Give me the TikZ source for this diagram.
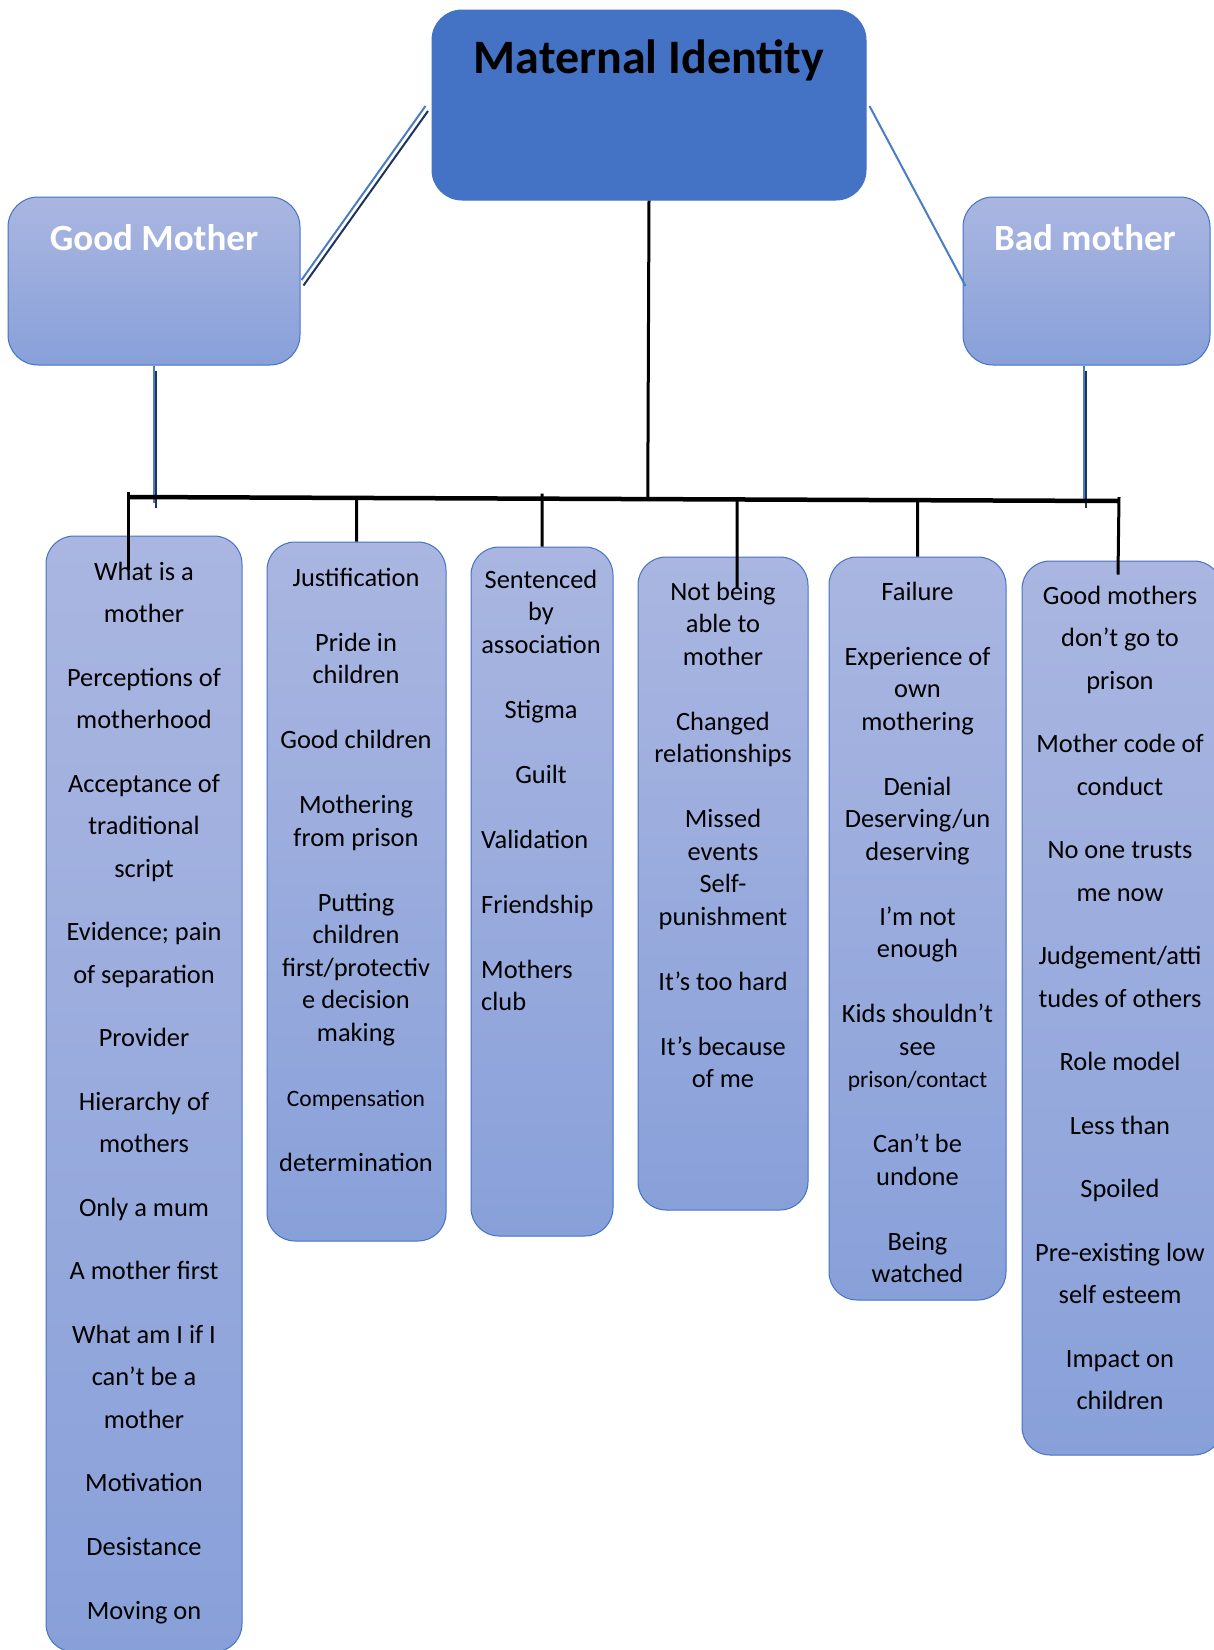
\documentclass[tikz,border=0pt]{standalone}
\usepackage{fontspec}
\setmainfont{Carlito}
\usetikzlibrary{calc}

\definecolor{mainblue}{RGB}{68,114,196}
\definecolor{lightline}{RGB}{74,126,196}
\definecolor{darkline}{RGB}{32,52,88}
\definecolor{boxtop}{RGB}{170,182,225}
\definecolor{boxbottom}{RGB}{136,160,217}

\newcommand{\firstline}{\rule{0pt}{20pt}}

\tikzset{
  mainbox/.style={draw=mainblue, fill=mainblue, rounded corners=30pt, line width=1pt, inner sep=0pt},
  headbox/.style={draw=mainblue, top color=boxtop, bottom color=boxbottom, rounded corners=30pt, line width=1pt, inner sep=0pt},
  colbox/.style={draw=mainblue, top color=boxtop, bottom color=boxbottom, rounded corners=28pt, line width=1pt, inner sep=0pt},
  headtext/.style={anchor=base, inner sep=0pt, text=white, font=\fontsize{37}{44}\selectfont\bfseries},
  itemtext/.style={anchor=north, inner sep=0pt, align=center, font=\fontsize{26.4}{32.5}\selectfont},
  wideitems/.style={itemtext, font=\fontsize{26.4}{42.4}\selectfont},
  bar/.style={line width=4.5pt},
  tick/.style={line width=3pt},
  blueline/.style={draw=lightline, line width=2pt},
  shadowline/.style={draw=darkline, line width=2pt},
}

\newcommand{\smalltxt}[1]{{\fontsize{23.5}{32.5}\selectfont #1}}

\begin{document}
\begin{tikzpicture}[x=1pt, y=-1pt]
    \useasboundingbox (0,0) rectangle (1214,1650);

    % Define the positions of the boxes
    \coordinate (mainPos) at (649,105);
    \coordinate (goodPos) at (154,281);
    \coordinate (badPos) at (1086.5,281);
    \coordinate (col1Pos) at (144,1094);
    \coordinate (col2Pos) at (356.5,891.5);
    \coordinate (col3Pos) at (542,891.5);
    \coordinate (col4Pos) at (723,883.5);
    \coordinate (col5Pos) at (917.5,928.5);
    \coordinate (col6Pos) at (1122,1008);

    % Draw the boxes
    \node[mainbox, minimum width=434pt, minimum height=190pt] (mi) at (mainPos) {};
    \node[headbox, minimum width=292pt, minimum height=168pt] (gm) at (goodPos) {};
    \node[headbox, minimum width=247pt, minimum height=168pt] (bm) at (badPos) {};
    \node[colbox, minimum width=196pt, minimum height=1116pt] (c1) at (col1Pos) {};
    \node[colbox, minimum width=179pt, minimum height=699pt] (c2) at (col2Pos) {};
    \node[colbox, minimum width=142pt, minimum height=689pt] (c3) at (col3Pos) {};
    \node[colbox, minimum width=170pt, minimum height=653pt] (c4) at (col4Pos) {};
    \node[colbox, minimum width=177pt, minimum height=743pt] (c5) at (col5Pos) {};
    \node[colbox, minimum width=200pt, minimum height=894pt] (c6) at (col6Pos) {};

    % Draw the labels
    \node[anchor=base, inner sep=0pt, font=\fontsize{48}{58}\selectfont\bfseries] (mitext) at (649,73) {Maternal Identity};
    \node[headtext] (gmtext) at (154,250) {Good Mother};
    \node[headtext] (bmtext) at (1085,250) {Bad mother};

    \node[wideitems] (c1text) at (144,560) {\firstline What is a\\mother\\[21.2pt]
        Perceptions of\\motherhood\\[21.2pt]
        Acceptance of\\traditional\\script\\[21.2pt]
        Evidence; pain\\of separation\\[21.2pt]
        Provider\\[21.2pt]
        Hierarchy of\\mothers\\[21.2pt]
        Only a mum\\[21.2pt]
        A mother first\\[21.2pt]
        What am I if I\\can’t be a\\mother\\[21.2pt]
        Motivation\\[21.2pt]
        Desistance\\[21.2pt]
        Moving on};
    \node[itemtext] (c2text) at (356,566) {\firstline Justification\\[32.5pt]
        Pride in\\children\\[32.5pt]
        Good children\\[32.5pt]
        Mothering\\from prison\\[32.5pt]
        Putting\\children\\first/protectiv\\e decision\\making\\[32.5pt]
        \smalltxt{Compensation}\\[32.5pt]
        determination};
    \node[itemtext] (c3text) at (541,568) {\firstline Sentenced\\by\\association\\[32.5pt]
        Stigma\\[32.5pt]
        Guilt};
    \node[itemtext, anchor=north west, align=left] (c3left) at (481,828) {\firstline Validation\\[32.5pt]
        Friendship\\[32.5pt]
        Mothers\\club};
    \node[itemtext] (c4text) at (723,580) {\firstline Not being\\able to\\mother\\[32.5pt]
        Changed\\relationships\\[32.5pt]
        Missed\\events\\Self-\\punishment\\[32.5pt]
        It’s too hard\\[32.5pt]
        It’s because\\of me};
    \node[itemtext] (c5text) at (917.5,580) {\firstline Failure\\[32.5pt]
        Experience of\\own\\mothering\\[32.5pt]
        Denial\\Deserving/un\\deserving\\[32.5pt]
        I’m not\\enough\\[32.5pt]
        Kids shouldn’t\\see\\\smalltxt{prison/contact}\\[32.5pt]
        Can’t be\\undone\\[32.5pt]
        Being\\watched};
    \node[wideitems] (c6text) at (1120,584) {\firstline Good mothers\\don’t go to\\prison\\[21.2pt]
        Mother code of\\conduct\\[21.2pt]
        No one trusts\\me now\\[21.2pt]
        Judgement/atti\\tudes of others\\[21.2pt]
        Role model\\[21.2pt]
        Less than\\[21.2pt]
        Spoiled\\[21.2pt]
        Pre-existing low\\self esteem\\[21.2pt]
        Impact on\\children};

    % Draw the lines
    \draw[blueline] ([xshift=-6pt,yshift=-1pt]mi.west) -- ([xshift=1pt,yshift=1pt]gm.east);
    \draw[shadowline] ([xshift=-3.5pt,yshift=-6pt]mi.west) -- ([xshift=3pt,yshift=-4.5pt]gm.east);
    \draw[blueline] ([xshift=3pt,yshift=-1pt]mi.east) -- ([xshift=3pt,yshift=-5pt]bm.west);

    \draw[blueline] ([xshift=0.3pt]gm.south) -- ++(0,137);
    \draw[shadowline] ([xshift=2.3pt,yshift=-5pt]gm.south) -- ++(0,137);
    \draw[blueline] ([xshift=-2.2pt]bm.south) -- ++(0,137);
    \draw[shadowline] ([xshift=-0.2pt,yshift=-5pt]bm.south) -- ++(0,137);

    \coordinate (barL) at (128,497);
    \coordinate (barR) at (1119,501);
    \draw[bar] (barL) -- (barR);
    \draw[tick] (mi.south) -- ($(barL)!(mi.south)!(barR)$);

    \draw[tick] ($(barL)+(0,-5)$) -- ($(c1.north)+(-16,34)$);
    \draw[tick] ($(barL)!(c2.north)!(barR)$) -- (c2.north);
    \draw[tick] ($(barL)!(c3.north)!(barR)+(0,-5)$) -- (c3.north);
    \draw[tick] ($(barL)!($(c4.north)+(14,0)$)!(barR)$) -- ($(c4.north)+(14,31)$);
    \draw[tick] ($(barL)!(c5.north)!(barR)$) -- (c5.north);
    \draw[tick] ($(barR)+(0,-4)$) -- ($(c6.north)+(-4,14)$);
\end{tikzpicture}
\end{document}
